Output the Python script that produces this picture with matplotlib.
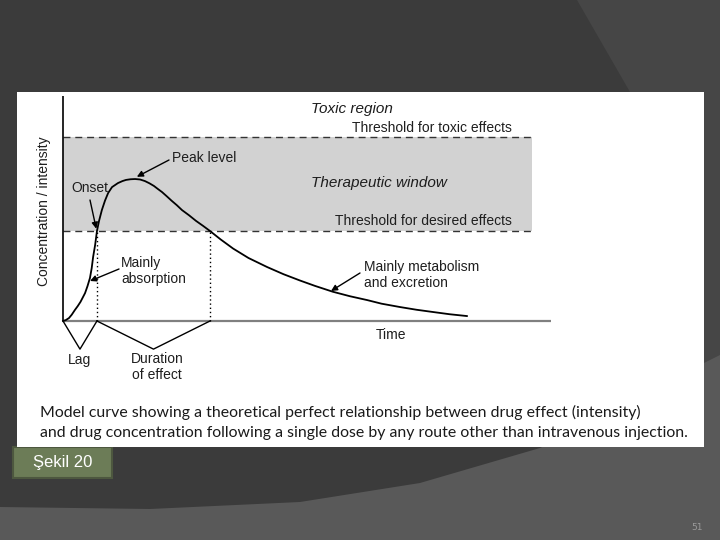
# DRUG CONCENTRATION MODEL CURVE (slide recreation)

import matplotlib
matplotlib.use("Agg")
import matplotlib.pyplot as plt
from matplotlib.patches import Polygon, Rectangle

# DATA ##########################################

# concentration-time curve (time in h, concentration in arbitrary units)
time = [0.00, 0.08, 0.17, 0.25, 0.34, 0.42, 0.50, 0.56, 0.63, 0.70, 0.77, 0.82,
        0.86, 0.92, 0.97, 1.03, 1.11, 1.20, 1.29, 1.40, 1.57, 1.70, 1.80, 1.93,
        2.06, 2.20, 2.34, 2.47, 2.60, 2.70, 2.83, 2.96, 3.10, 3.25, 3.40, 3.60,
        3.80, 4.00, 4.20, 4.50, 4.86, 5.30, 5.83, 6.30, 6.77, 7.20, 7.71, 8.20,
        8.69, 9.10, 9.63, 10.10, 10.57, 11.05, 11.54]
conc = [0.00, 0.04, 0.13, 0.28, 0.49, 0.66, 0.85, 1.03, 1.24, 1.55, 1.91, 2.35,
        2.84, 3.40, 4.00, 4.45, 4.93, 5.35, 5.69, 5.95, 6.13, 6.22, 6.27, 6.30,
        6.31, 6.29, 6.22, 6.12, 6.00, 5.88, 5.73, 5.55, 5.35, 5.15, 4.93, 4.70,
        4.45, 4.23, 4.00, 3.63, 3.22, 2.80, 2.40, 2.08, 1.80, 1.56, 1.30, 1.10,
        0.93, 0.77, 0.62, 0.50, 0.40, 0.30, 0.22]

threshold_desired = 4.0
threshold_toxic = 8.18
onset_time = 0.97
offset_time = 4.2
time_max = 13.94
window_end = 13.4
conc_max = 10.0

peak_idx = conc.index(max(conc))

# FIGURE ########################################

W, H = 720, 540
fig = plt.figure(figsize=(7.2, 5.4), dpi=100)
fig.patch.set_facecolor("#3b3b3b")

# slide background in pixel coordinates
bg = fig.add_axes([0, 0, 1, 1])
bg.set_xlim(0, W)
bg.set_ylim(H, 0)
bg.axis("off")

bg.add_patch(Polygon([(577, 0), (720, 0), (720, 460), (640, 460), (636, 120), (630, 92)],
                     closed=True, facecolor="#464646", edgecolor="none"))
bg.add_patch(Polygon([(0, 507), (150, 509), (300, 502), (420, 483), (540, 448),
                      (620, 410), (704, 363), (720, 355), (720, 540), (0, 540)],
                     closed=True, facecolor="#595959", edgecolor="none"))

# "Şekil 20" label box
bg.add_patch(Rectangle((13, 447), 99, 31, facecolor="#6c7c57", edgecolor="#4d573f", lw=1.5))
bg.text(63, 463, "Şekil 20", color="white", fontsize=12, ha="center", va="center",
        family="Liberation Sans")

# slide number
bg.text(697, 528, "51", color="#9a9a9a", fontsize=6.5, ha="center", va="center")

# CHART AXES ####################################

# white panel: 1 h = 35 px, 1 unit = 22.5 px, origin at pixel (63, 321)
x0, y0, sx, sy = 63, 321, 35.0, 22.5
px_l, px_t, px_r, px_b = 17, 92, 704, 447
ax = fig.add_axes([px_l / W, 1 - px_b / H, (px_r - px_l) / W, (px_b - px_t) / H])
ax.set_xlim((px_l - x0) / sx, (px_r - x0) / sx)
ax.set_ylim((y0 - px_b) / sy, (y0 - px_t) / sy)
ax.set_facecolor("white")
ax.set_xticks([])
ax.set_yticks([])
for s in ax.spines.values():
    s.set_visible(False)


def p(x, y):
    # pixel position -> data coordinates (for text placement only)
    return (x - x0) / sx, (y0 - y) / sy


txt = "#1e1e1e"
font = "Liberation Sans"

# therapeutic window
ax.fill_between([0, window_end], threshold_desired, threshold_toxic, color="#d2d2d2", lw=0, zorder=1)
ax.plot([0, window_end], [threshold_toxic] * 2, color="#333333", lw=1, ls=(0, (5, 3.5)), zorder=2)
ax.plot([0, window_end], [threshold_desired] * 2, color="#333333", lw=1, ls=(0, (5, 3.5)), zorder=2)

# axes lines
ax.plot([0, time_max], [0, 0], color="#808080", lw=1.6, zorder=3, solid_capstyle="butt")
ax.plot([0, 0], [0, conc_max], color="black", lw=1.2, zorder=4, solid_capstyle="butt")

# duration markers
ax.plot([onset_time] * 2, [0, threshold_desired], color="black", lw=1, ls=(0, (1, 2)), zorder=3)
ax.plot([offset_time] * 2, [0, threshold_desired], color="black", lw=1, ls=(0, (1, 2)), zorder=3)

# curve
ax.plot(time, conc, color="black", lw=1.3, zorder=5, solid_joinstyle="round")

# lag and duration brackets
lag_mid = onset_time / 2
dur_mid = (onset_time + offset_time) / 2
ax.plot([0, lag_mid, onset_time], [0, -1.25, 0], color="black", lw=1, clip_on=False, zorder=5)
ax.plot([onset_time, dur_mid, offset_time], [0, -1.25, 0], color="black", lw=1, clip_on=False, zorder=5)
ax.text(*p(79, 360), "Lag", ha="center", va="center", fontsize=10, color=txt, family=font)
ax.text(*p(157, 367), "Duration\nof effect", ha="center", va="center", fontsize=10, color=txt,
        family=font, linespacing=1.2)

# arrows
arrow = dict(arrowstyle="-|>", color="black", lw=1, mutation_scale=9, shrinkA=0, shrinkB=0)
ax.annotate("", xy=(time[peak_idx] + 0.05, conc[peak_idx] + 0.1), xytext=p(169, 160), arrowprops=arrow, zorder=6)
ax.annotate("", xy=(onset_time - 0.02, threshold_desired + 0.1), xytext=p(90, 200), arrowprops=arrow, zorder=6)
ax.annotate("", xy=p(90, 281), xytext=p(119, 269), arrowprops=arrow, zorder=6)
ax.annotate("", xy=p(331, 291), xytext=p(360, 273), arrowprops=arrow, zorder=6)

# labels
ax.text(*p(172, 158), "Peak level", ha="left", va="center", fontsize=10, color=txt, family=font)
ax.text(*p(90, 188), "Onset", ha="center", va="center", fontsize=10, color=txt, family=font)
ax.text(*p(121, 271), "Mainly\nabsorption", ha="left", va="center", fontsize=10, color=txt,
        family=font, linespacing=1.2)
ax.text(*p(364, 275), "Mainly metabolism\nand excretion", ha="left", va="center", fontsize=10,
        color=txt, family=font, linespacing=1.2)
ax.text(*p(311, 109), "Toxic region", ha="left", va="center", fontsize=11, style="italic",
        color=txt, family=font)
ax.text(*p(512, 128), "Threshold for toxic effects", ha="right", va="center", fontsize=10,
        color=txt, family=font)
ax.text(*p(311, 183), "Therapeutic window", ha="left", va="center", fontsize=11, style="italic",
        color=txt, family=font)
ax.text(*p(512, 221), "Threshold for desired effects", ha="right", va="center", fontsize=10,
        color=txt, family=font)
ax.text(*p(391, 335), "Time", ha="center", va="center", fontsize=10, color=txt, family=font)
ax.text(*p(44, 211), "Concentration / intensity", ha="center", va="center", rotation=90,
        fontsize=10, color=txt, family=font)

# caption
ax.text(*p(40, 412), "Model curve showing a theoretical perfect relationship between drug effect (intensity)",
        ha="left", va="center", fontsize=11.4, color="#1a1a1a", family="Lato")
ax.text(*p(40, 433), "and drug concentration following a single dose by any route other than intravenous injection.",
        ha="left", va="center", fontsize=11.4, color="#1a1a1a", family="Lato")

# EXPORT ########################################

fig.savefig("out.png", dpi=100, facecolor=fig.get_facecolor())
